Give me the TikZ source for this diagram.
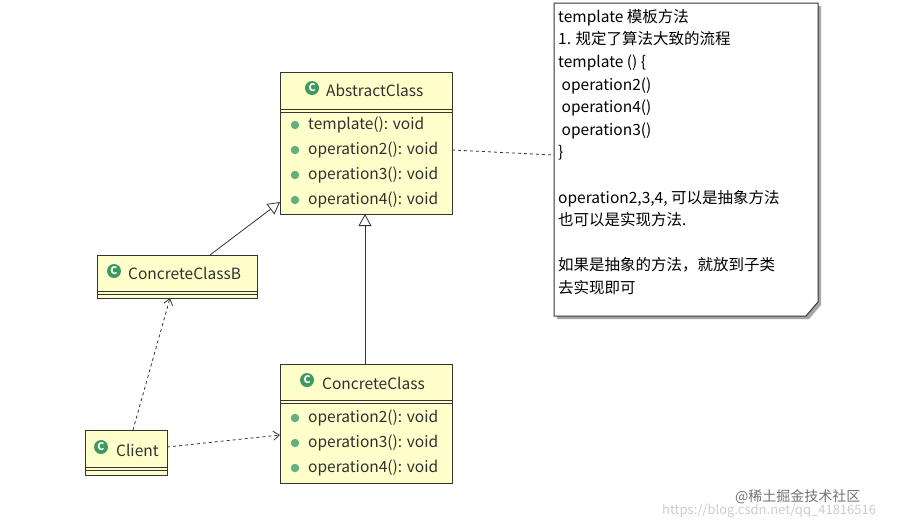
\documentclass[tikz,border=0pt]{standalone}
\usepackage{fontspec}
\setmainfont{Noto Sans CJK SC}
\usetikzlibrary{arrows.meta,calc}
\definecolor{uml}{HTML}{FFFFCC}
\definecolor{ic}{HTML}{3E9A5E}
\definecolor{txt}{HTML}{303030}
\tikzset{
 cls/.style={draw=black!80,fill=uml,line width=1pt,inner sep=0,anchor=north west},
 mem/.style={anchor=west,font=\fontsize{15.5}{17}\selectfont,text=txt,inner sep=0},
 dot/.style={circle,fill=ic!80,inner sep=0,minimum size=8.5pt},
 ttl/.style={anchor=west,font=\fontsize{15.5}{17}\selectfont,text=txt,inner sep=0},
 gen/.style={-{Triangle[open,length=12pt,width=13pt,fill=white]},black!80,line width=0.8pt},
 dep/.style={-{Straight Barb[length=6pt,width=9pt]},dashed,black!80,line width=0.8pt},
 notel/.style={dashed,black!80,line width=0.8pt}
}
\newcommand{\cicon}[1]{\node[circle,fill=ic,inner sep=0,minimum size=14pt,text=white,font=\bfseries\fontsize{10.5}{10}\selectfont] at #1 {C};}
\begin{document}
\begin{tikzpicture}[x=1pt,y=-1pt]
\useasboundingbox (0,0) rectangle (913,528);
% AbstractClass
\node[cls,minimum width=172pt,minimum height=142pt] (A) at (280,72) {};
\draw[black!80,line width=1pt] (280,109)--(452,109) (280,112.5)--(452,112.5);
\cicon{(312,88)}
\node[ttl] at (326,90) {AbstractClass};
\foreach \y/\t in {125/template(): void,150/operation2(): void,175/operation3(): void,200/operation4(): void}{
 \node[dot] at (295,\y) {};
 \node[mem] at (308,\y) {\t};}
% ConcreteClassB
\node[cls,minimum width=160pt,minimum height=43pt] (B) at (97,255) {};
\draw[black!80,line width=1pt] (97,291)--(257,291) (97,294.5)--(257,294.5);
\cicon{(114,271)}
\node[ttl] at (128,273) {ConcreteClassB};
% Client
\node[cls,minimum width=82pt,minimum height=45pt] (Cl) at (85,430) {};
\draw[black!80,line width=1pt] (85,467)--(167,467) (85,470.5)--(167,470.5);
\cicon{(101,447)}
\node[ttl] at (116,450) {Client};
% ConcreteClass
\node[cls,minimum width=172pt,minimum height=119pt] (C) at (280,364) {};
\draw[black!80,line width=1pt] (280,400)--(452,400) (280,403.5)--(452,403.5);
\cicon{(307,380)}
\node[ttl] at (322,383) {ConcreteClass};
\foreach \y/\t in {418/operation2(): void,443/operation3(): void,468/operation4(): void}{
 \node[dot] at (295,\y) {};
 \node[mem] at (308,\y) {\t};}
% Note
\fill[black!35] (557,6)--(821,6)--(821,305)--(809,319)--(557,319)--cycle;
\draw[draw=black!80,fill=white,line width=1pt] (554,3)--(818,3)--(818,302)--(806,316)--(554,316)--cycle;
\node[anchor=north west,inner sep=0,align=left,font=\fontsize{15.5}{22.6}\selectfont,text=black] (N) at (558,9) {template 模板方法\\1. 规定了算法大致的流程\\template () \{\\\ operation2()\\\ operation4()\\\ operation3()\\\}\\[22.6pt]operation2,3,4, 可以是抽象方法\\也可以是实现方法.\\[22.6pt]如果是抽象的方法，就放到子类\\去实现即可};
\coordinate (Nl) at (554,155);
% connectors
\draw[gen] (210,255) -- (280,202);
\draw[gen] (365,364) -- (365,214);
\draw[dep] (133,430) -- (170,298);
\draw[dep] (167,447) -- (280,435);
\draw[notel] (452,150) -- (Nl);
% watermark
\node[anchor=west,text=black!20,font=\fontsize{13}{14}\selectfont,inner sep=0] at (662,511) {https://blog.csdn.net/qq\_41816516};
\node[anchor=west,text=black!55,font=\fontsize{14}{16}\selectfont,inner sep=0] at (735,497) {@稀土掘金技术社区};
\end{tikzpicture}
\end{document}
